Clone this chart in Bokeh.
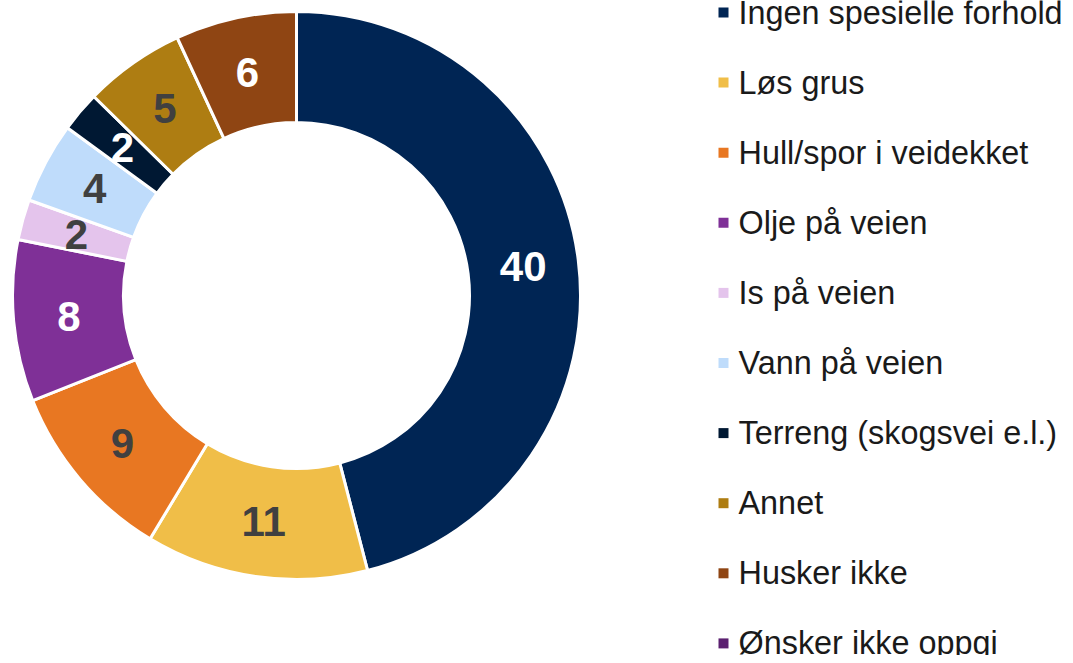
import numpy as np
from bokeh.plotting import figure
from bokeh.models import Range1d, ColumnDataSource
from bokeh.core.properties import value
from bokeh.embed import file_html
from bokeh.resources import INLINE

categories = ["Ingen spesielle forhold", "Løs grus", "Hull/spor i veidekket", "Olje på veien",
              "Is på veien", "Vann på veien", "Terreng (skogsvei e.l.)", "Annet",
              "Husker ikke", "Ønsker ikke oppgi"]
values = [40, 11, 9, 8, 2, 4, 2, 5, 6, 0]
colors = ["#002554", "#F0BE48", "#E87722", "#7F3097", "#E4C4EC", "#BFDCFB",
          "#001833", "#AE7D12", "#8F4513", "#5B2070"]
label_colors = ["white", "#404040", "#404040", "white", "#404040", "#404040",
                "white", "#404040", "white", "white"]

W, H = 1065, 655
p = figure(width=W, height=H, output_backend="svg", toolbar_location=None,
           x_range=Range1d(0, W), y_range=Range1d(0, H), min_border=0,
           outline_line_color=None)
p.axis.visible = False
p.grid.visible = False
p.background_fill_color = "white"
p.border_fill_color = "white"

# donut geometry (picture px -> data: x, H-y)
cx, cy = 296, H - 295
r_out, r_in = 284, 173

vals = np.array(values, dtype=float)
total = vals.sum()
cum = np.concatenate([[0], np.cumsum(vals)])
start = np.pi / 2 - cum[:-1] / total * 2 * np.pi
end = np.pi / 2 - cum[1:] / total * 2 * np.pi

mask = vals > 0
src = ColumnDataSource(dict(start=start[mask], end=end[mask],
                            color=[c for c, m in zip(colors, mask) if m]))
p.annular_wedge(x=cx, y=cy, inner_radius=r_in, outer_radius=r_out,
                start_angle="start", end_angle="end", direction="clock",
                fill_color="color", line_color="white", line_width=3, source=src)

mid = (start + end) / 2
r_mid = (r_in + r_out) / 2
lsrc = ColumnDataSource(dict(
    x=(cx + r_mid * np.cos(mid))[mask], y=(cy + r_mid * np.sin(mid))[mask],
    t=[str(v) for v, m in zip(values, mask) if m],
    c=[c for c, m in zip(label_colors, mask) if m]))
p.text(x="x", y="y", text="t", text_color="c", source=lsrc,
       text_font=value("Liberation Sans"), text_font_style="bold",
       text_font_size="42px", text_align="center", text_baseline="middle")

# legend
n = len(categories)
ly = H - (12 + np.arange(n) * 70.1)
legsrc = ColumnDataSource(dict(x=[723] * n, tx=[738] * n, y=ly,
                               t=categories, c=colors))
p.scatter(x="x", y="y", marker="square", size=10, fill_color="c",
          line_color=None, source=legsrc)
p.text(x="tx", y="y", text="t", text_color="#1a1a1a", source=legsrc,
       text_font=value("Liberation Sans"), text_font_size="32.4px",
       text_align="left", text_baseline="middle")

open("out.html", "w").write(file_html(p, INLINE))
